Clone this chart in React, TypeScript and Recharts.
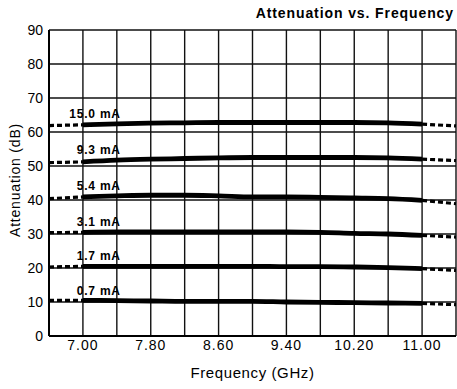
import React from 'react';
import { LineChart, Line, XAxis, YAxis, CartesianGrid } from 'recharts';

// frequency grid (GHz), every 0.4 GHz across the plot
const frequencies = [6.6, 7.0, 7.4, 7.8, 8.2, 8.6, 9.0, 9.4, 9.8, 10.2, 10.6, 11.0, 11.4];
const labelledFreqs = [7.0, 7.8, 8.6, 9.4, 10.2, 11.0];
const attenTicks = [0, 10, 20, 30, 40, 50, 60, 70, 80, 90];

// bias currents and attenuation (dB) per frequency
const currents = ['15.0 mA', '9.3 mA', '5.4 mA', '3.1 mA', '1.7 mA', '0.7 mA'];
const att150 = [61.9, 62.1, 62.4, 62.6, 62.7, 62.8, 62.8, 62.8, 62.8, 62.8, 62.7, 62.3, 61.8];
const att93 = [51.0, 51.2, 51.7, 52.0, 52.2, 52.4, 52.5, 52.5, 52.5, 52.5, 52.4, 52.0, 51.6];
const att54 = [40.4, 40.9, 41.2, 41.4, 41.4, 41.2, 40.9, 40.9, 40.8, 40.6, 40.4, 39.9, 38.9];
const att31 = [30.4, 30.5, 30.6, 30.6, 30.6, 30.6, 30.6, 30.6, 30.5, 30.2, 30.0, 29.6, 29.1];
const att17 = [20.3, 20.5, 20.5, 20.5, 20.5, 20.5, 20.5, 20.4, 20.4, 20.3, 20.1, 19.8, 19.3];
const att07 = [10.5, 10.5, 10.4, 10.3, 10.2, 10.2, 10.2, 10.0, 9.9, 9.8, 9.7, 9.6, 9.2];

const seriesValues = [att150, att93, att54, att31, att17, att07];

// specified band is solid, the band edges are dashed
const BAND_LO = 7.0;
const BAND_HI = 11.0;
const LABEL_AT = 2; // index of 7.4 GHz

const FONT = '"Liberation Sans", Arial, Helvetica, sans-serif';

const rows = frequencies.map((f, i) => {
  const row: Record<string, number | null> = { freq: f };
  seriesValues.forEach((vals, k) => {
    row[`s${k}`] = f >= BAND_LO - 1e-6 && f <= BAND_HI + 1e-6 ? vals[i] : null;
    row[`l${k}`] = f <= BAND_LO + 1e-6 ? vals[i] : null;
    row[`r${k}`] = f >= BAND_HI - 1e-6 ? vals[i] : null;
  });
  return row;
});

const formatFreq = (v: number) =>
  labelledFreqs.some((t) => Math.abs(t - v) < 1e-6) ? v.toFixed(2) : '';

const currentLabel = (name: string) => (props: any) => {
  if (props.index !== LABEL_AT) return <g />;
  return (
    <text
      x={props.x + 4}
      y={props.y - 6}
      textAnchor="end"
      fontFamily={FONT}
      fontWeight="bold"
      fontSize={12}
      letterSpacing={0.8}
      fill="#000"
    >
      {name}
    </text>
  );
};

const App = () => {
  return (
    <div style={{ position: 'absolute', left: 0, top: 0, width: 457, height: 389, background: '#fff' }}>
      <LineChart
        width={457}
        height={389}
        data={rows}
        margin={{ top: 30, right: 1, left: 0, bottom: 0 }}
      >
        <text x={454} y={18} textAnchor="end" fontFamily={FONT} fontWeight="bold" fontSize={14} letterSpacing={0.9} fill="#000">
          Attenuation vs. Frequency
        </text>
        <text
          x={0}
          y={0}
          transform="translate(15, 180) rotate(-90)"
          textAnchor="middle"
          dominantBaseline="central"
          fontFamily={FONT}
          fontSize={14}
          letterSpacing={0.8}
          fill="#000"
        >
          Attenuation (dB)
        </text>
        <CartesianGrid stroke="#111" strokeWidth={1.4} />
        <XAxis
          dataKey="freq"
          type="number"
          domain={[6.6, 11.4]}
          ticks={frequencies}
          interval={0}
          tickFormatter={formatFreq}
          tickLine={false}
          axisLine={{ stroke: '#000', strokeWidth: 2 }}
          tickSize={4}
          tickMargin={0}
          height={53}
          tick={{ fill: '#000', fontSize: 14, fontFamily: FONT, letterSpacing: 1 }}
          label={{
            value: 'Frequency (GHz)',
            position: 'insideBottom',
            offset: 11,
            fill: '#000',
            fontSize: 15,
            fontFamily: FONT,
            letterSpacing: 0.6,
          }}
        />
        <YAxis
          type="number"
          domain={[0, 90]}
          ticks={attenTicks}
          interval={0}
          tickLine={false}
          axisLine={{ stroke: '#000', strokeWidth: 2 }}
          tickSize={6}
          tickMargin={0}
          width={49}
          tick={{ fill: '#000', fontSize: 14, fontFamily: FONT }}
        />
        {currents.map((name, k) => (
          <Line
            key={`s${k}`}
            dataKey={`s${k}`}
            type="monotone"
            stroke="#000"
            strokeWidth={4.8}
            dot={false}
            activeDot={false}
            connectNulls={false}
            isAnimationActive={false}
            label={currentLabel(name)}
          />
        ))}
        {currents.map((name, k) => (
          <Line
            key={`l${k}`}
            dataKey={`l${k}`}
            type="linear"
            stroke="#000"
            strokeWidth={3.2}
            strokeDasharray="5 3"
            dot={false}
            activeDot={false}
            isAnimationActive={false}
          />
        ))}
        {currents.map((name, k) => (
          <Line
            key={`r${k}`}
            dataKey={`r${k}`}
            type="linear"
            stroke="#000"
            strokeWidth={3.2}
            strokeDasharray="5 3"
            dot={false}
            activeDot={false}
            isAnimationActive={false}
          />
        ))}
      </LineChart>
    </div>
  );
};

export default App;
